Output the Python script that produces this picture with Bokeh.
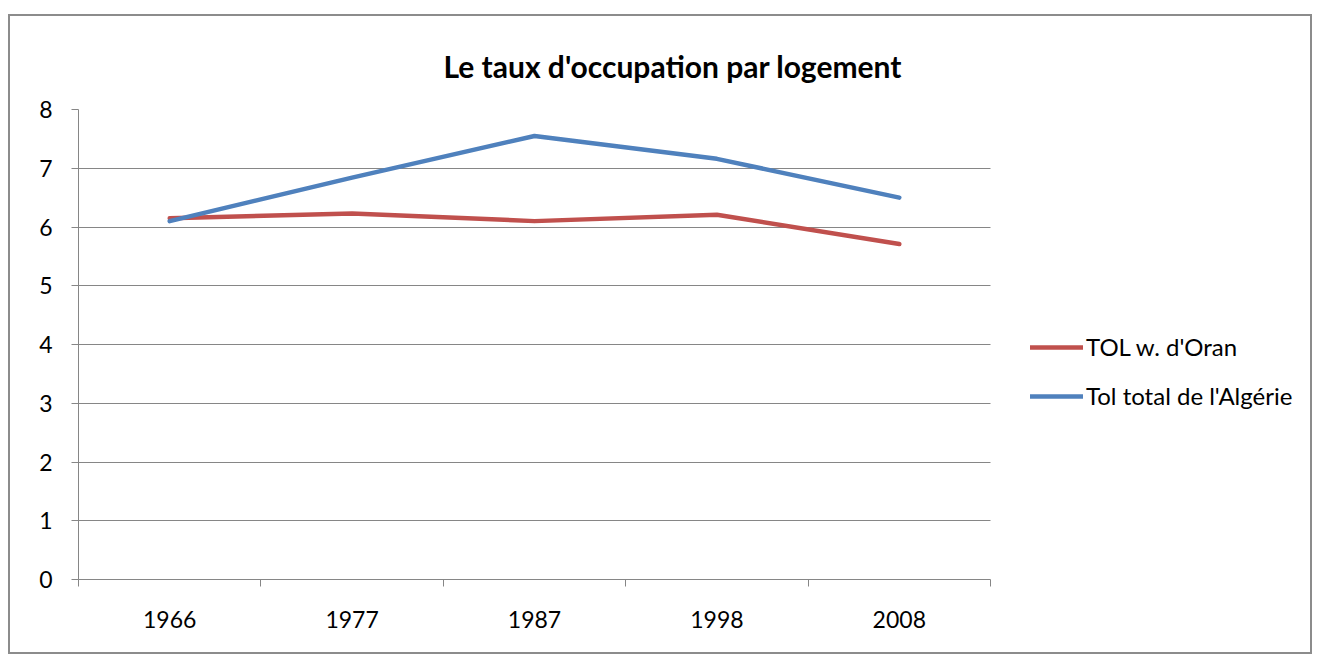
from bokeh.plotting import figure
from bokeh.models import FixedTicker, Legend, LegendItem, ColumnDataSource, Grid
from bokeh.embed import file_html
from bokeh.resources import INLINE

years = ["1966", "1977", "1987", "1998", "2008"]
tol_oran = [6.15, 6.23, 6.10, 6.21, 5.71]
tol_algerie = [6.10, 6.84, 7.55, 7.16, 6.50]
y_ticks = [0, 1, 2, 3, 4, 5, 6, 7, 8]
title_text = "Le taux d'occupation par logement"
labels = ["TOL w. d'Oran", "Tol total de l'Algérie"]

FONT = "Lato"
GRAY = "#868686"

W, H = 1304, 640
LEFT, RIGHT, TOP, BOTTOM = 68, 4, 93, 77
AXIS_W = 912  # pixel width of the category axis
frame_w = W - LEFT - RIGHT
n = len(years)
x_end = n * frame_w / AXIS_W  # extra room on the right holds the legend

xpos = [i + 0.5 for i in range(n)]
src = ColumnDataSource(dict(x=xpos, oran=tol_oran, alg=tol_algerie))

p = figure(width=W, height=H, output_backend="svg", toolbar_location=None,
           x_range=(0, x_end), y_range=(y_ticks[0], y_ticks[-1]),
           min_border_left=LEFT, min_border_right=RIGHT, min_border_top=TOP,
           min_border_bottom=BOTTOM, title=title_text)
p.styles = {"margin-left": "8px", "margin-top": "14px", "border": "2px solid #8c8c8c"}

p.title.align = "left"
p.title.offset = 365
p.title.standoff = 52
p.title.text_font = FONT
p.title.text_font_style = "bold"
p.title.text_font_size = "30px"
p.title.text_color = "black"

p.outline_line_color = None
p.background_fill_color = "white"
p.border_fill_color = "white"

# x axis
p.xaxis.bounds = (0, n)
p.xaxis.ticker = FixedTicker(ticks=xpos, minor_ticks=list(range(n + 1)))
p.xaxis.major_label_overrides = {x: y for x, y in zip(xpos, years)}
p.xaxis.major_tick_line_color = None
p.xaxis.major_tick_out = 0
p.xaxis.major_tick_in = 0
p.xaxis.minor_tick_line_color = GRAY
p.xaxis.minor_tick_out = 7
p.xaxis.minor_tick_in = 0
p.xaxis.axis_line_color = GRAY
p.xaxis.major_label_standoff = 24
p.xaxis.major_label_text_font = FONT
p.xaxis.major_label_text_font_size = "23px"
p.xaxis.major_label_text_color = "black"
p.xgrid.grid_line_color = None

# y axis
p.yaxis.ticker = FixedTicker(ticks=y_ticks)
p.yaxis.minor_tick_line_color = None
p.yaxis.major_tick_line_color = GRAY
p.yaxis.major_tick_out = 7
p.yaxis.major_tick_in = 0
p.yaxis.axis_line_color = GRAY
p.yaxis.major_label_standoff = 19
p.yaxis.major_label_text_font = FONT
p.yaxis.major_label_text_font_size = "23px"
p.yaxis.major_label_text_color = "black"

# horizontal gridlines limited to the category axis extent
if "cross_bounds" in Grid.properties():
    p.ygrid.grid_line_color = GRAY
    p.ygrid.grid_line_width = 1
    p.ygrid.cross_bounds = (0, n)
else:
    p.ygrid.grid_line_color = None
    p.segment(x0=[0] * len(y_ticks[1:]), x1=[n] * len(y_ticks[1:]),
              y0=y_ticks[1:], y1=y_ticks[1:], line_color=GRAY, line_width=1,
              level="underlay")

r1 = p.line("x", "oran", source=src, line_color="#C0504D", line_width=4.5,
            line_join="round", line_cap="round")
r2 = p.line("x", "alg", source=src, line_color="#4F81BD", line_width=4.5,
            line_join="round", line_cap="round")

legend = Legend(items=[LegendItem(label=labels[0], renderers=[r1]),
                       LegendItem(label=labels[1], renderers=[r2])],
                location=(952, 169), orientation="vertical")
legend.border_line_color = None
legend.background_fill_alpha = 0
legend.padding = 0
legend.margin = 0
legend.spacing = 20
legend.glyph_width = 53
legend.glyph_height = 24
legend.label_height = 24
legend.label_standoff = 3
legend.label_text_font = FONT
legend.label_text_font_size = "24px"
legend.label_text_color = "black"
p.add_layout(legend, "center")

open("out.html", "w").write(file_html(p, INLINE))
